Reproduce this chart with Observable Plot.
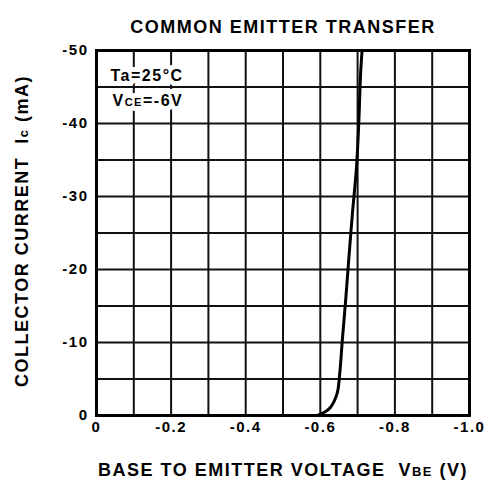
<!DOCTYPE html>
<html><head><meta charset="utf-8">
<script src="https://cdn.jsdelivr.net/npm/d3@7"></script>
<script src="https://cdn.jsdelivr.net/npm/@observablehq/plot@0.6"></script>
<style>body{margin:0;background:#fff}</style>
</head><body><div id="chart"></div>
<script>
// Curve: base-emitter voltage (V) vs collector current (mA)
const vbe = [-0.592, -0.61, -0.627, -0.645, -0.652, -0.659, -0.668, -0.676, -0.686, -0.697, -0.703, -0.708, -0.712];
const ic  = [0, -0.4, -1.1, -3.0, -5.7, -10.3, -15.8, -21.2, -27.6, -34.0, -39.9, -46.8, -50];

const xGrid = [0, -0.1, -0.2, -0.3, -0.4, -0.5, -0.6, -0.7, -0.8, -0.9, -1.0];
const yGrid = [0, -5, -10, -15, -20, -25, -30, -35, -40, -45, -50];
const xTicks = [0, -0.2, -0.4, -0.6, -0.8, -1.0];
const xTickLabels = ["0", "-0.2", "-0.4", "-0.6", "-0.8", "-1.0"];
const yTicks = [0, -10, -20, -30, -40, -50];
const yTickLabels = ["0", "-10", "-20", "-30", "-40", "-50"];

const titleText = "COMMON EMITTER TRANSFER";
const xLabelParts = ["BASE TO EMITTER VOLTAGE  V", "BE", " (V)"];
const yLabelParts = ["COLLECTOR CURRENT  I", "c", " (mA)"];
const condParts1 = ["Ta=25°C"];
const condParts2 = ["V", "CE", "=-6V"];

const data = vbe.map((v, i) => ({v, i: ic[i]}));
const font = "'Liberation Sans', Arial, sans-serif";
const bold = {fontWeight: "bold"};

const plot = Plot.plot({
  width: 488, height: 490,
  marginLeft: 96, marginRight: 19, marginTop: 50, marginBottom: 75,
  style: {fontFamily: font, background: "white", color: "black", letterSpacing: "1.5px"},
  x: {domain: [0, -1], axis: null},
  y: {domain: [0, -50], axis: null},
  marks: [
    Plot.ruleX(xGrid, {stroke: "#111", strokeWidth: 2}),
    Plot.ruleY(yGrid, {stroke: "#111", strokeWidth: 2}),
    // white halo behind the conditions text
    Plot.text([condParts1.join("")], {frameAnchor: "top-left", dx: 14, dy: 19, textAnchor: "start",
      fontSize: 16, ...bold, fill: "white", stroke: "white", strokeWidth: 10}),
    Plot.text([condParts2.join("")], {frameAnchor: "top-left", dx: 16, dy: 44, textAnchor: "start",
      fontSize: 16, ...bold, fill: "white", stroke: "white", strokeWidth: 10}),
    Plot.text([condParts1.join("")], {frameAnchor: "top-left", dx: 14, dy: 19, textAnchor: "start",
      fontSize: 16, ...bold, fill: "black"}),
    Plot.text([condParts2.join("")], {frameAnchor: "top-left", dx: 16, dy: 44, textAnchor: "start",
      fontSize: 16, ...bold, fill: "black"}),
    Plot.frame({stroke: "black", strokeWidth: 3}),
    Plot.line(data, {x: "v", y: "i", curve: "catmull-rom", stroke: "black", strokeWidth: 3}),
    Plot.text(xTicks, {x: d => d, text: (d, i) => xTickLabels[i], frameAnchor: "bottom", dy: 16,
      fontSize: 15, ...bold}),
    Plot.text(yTicks, {y: d => d, text: (d, i) => yTickLabels[i], frameAnchor: "left", dx: -8,
      textAnchor: "end", fontSize: 15, ...bold}),
    Plot.text([titleText], {frameAnchor: "top", dy: -30, fontSize: 18, ...bold}),
    Plot.text([xLabelParts.join("")], {frameAnchor: "bottom", dy: 60, fontSize: 18, ...bold}),
    Plot.text([yLabelParts.join("")], {frameAnchor: "left", dx: -74, dy: -2, rotate: -90, textAnchor: "middle",
      fontSize: 18, ...bold})
  ]
});

function smallParts(svg, parts, smallIdx, smallSize) {
  const full = parts.join("");
  svg.querySelectorAll("text").forEach(t => {
    if (t.textContent === full) {
      t.textContent = "";
      parts.forEach((p, k) => {
        const ts = document.createElementNS("http://www.w3.org/2000/svg", "tspan");
        ts.textContent = p;
        if (smallIdx.includes(k)) ts.setAttribute("font-size", smallSize);
        t.appendChild(ts);
      });
    }
  });
}
smallParts(plot, xLabelParts, [1], 13);
smallParts(plot, yLabelParts, [1], 13);
smallParts(plot, condParts2, [1], 11);
document.getElementById("chart").appendChild(plot);
</script>
</body></html>
